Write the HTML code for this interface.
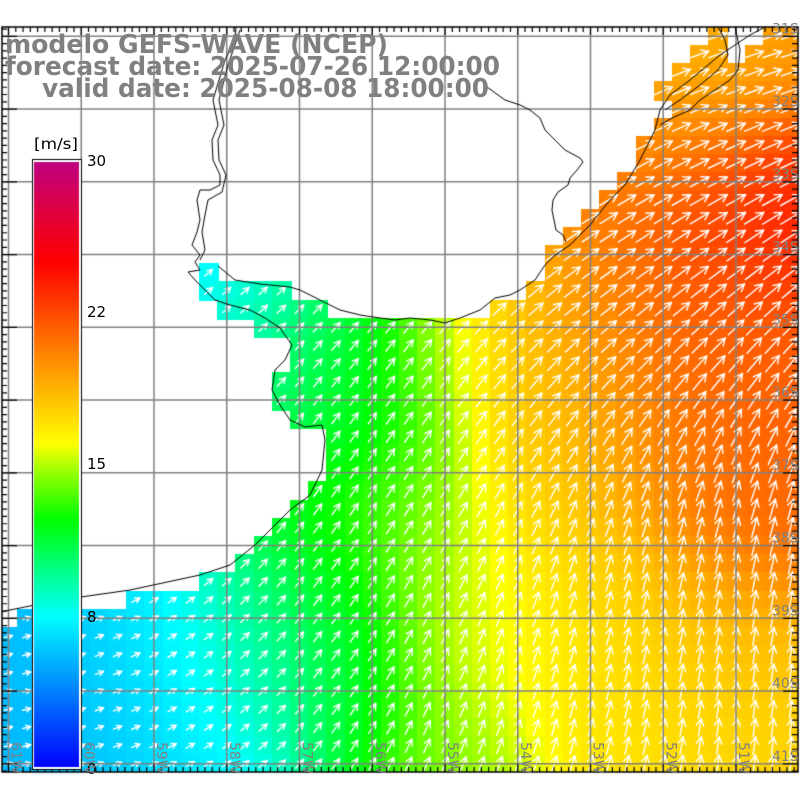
<!DOCTYPE html>
<html><head><meta charset="utf-8"><style>
html,body{margin:0;padding:0;background:#fff;width:800px;height:800px;overflow:hidden}
#c{position:absolute;left:0;top:0}
svg{position:absolute;left:0;top:0}
</style></head><body>
<canvas id="c" width="800" height="800"></canvas>
<svg width="800" height="800" xmlns="http://www.w3.org/2000/svg">
<g font-family="DejaVu Sans, Liberation Sans, sans-serif" font-weight="bold" font-size="26" fill="#808080">
<text x="5" y="53" textLength="383" lengthAdjust="spacingAndGlyphs">modelo GEFS-WAVE (NCEP)</text>
<text x="5" y="75" textLength="495" lengthAdjust="spacingAndGlyphs">forecast date: 2025-07-26 12:00:00</text>
<text x="42" y="97" textLength="447" lengthAdjust="spacingAndGlyphs">valid date: 2025-08-08 18:00:00</text>
</g>
<g font-family="DejaVu Sans, Liberation Sans, sans-serif" font-size="15" fill="#000">
<text x="34" y="149" textLength="44" lengthAdjust="spacingAndGlyphs">[m/s]</text>
<text x="87" y="166">30</text>
<text x="87" y="317">22</text>
<text x="87" y="469">15</text>
<text x="87" y="622">8</text>
<text x="87" y="774">0</text>
</g>
<g id="lab" font-family="DejaVu Sans, Liberation Sans, sans-serif" font-size="14" fill="#808080"></g>
</svg>
<script>
const cv=document.getElementById('c');const ctx=cv.getContext('2d');
const T=27,B=772,L=2,R=798;
const X0=8.5,Y0=36.3,D=72.75,C=18.19;
const rowsDef={0:[[709,727],[764,800]],1:[[691,727],[745,800]],2:[[673,800]],3:[[655,800]],4:[[673,800]],5:[[655,800]],6:[[636,800]],7:[[636,800]],8:[[618,800]],9:[[600,800]],10:[[582,800]],11:[[563,800]],12:[[545,800]],13:[[200,218],[545,800]],14:[[200,290],[527,800]],15:[[218,327],[492,800]],16:[[255,800]],17:[[292,800]],18:[[292,800]],19:[[273,800]],20:[[273,800]],21:[[292,800]],22:[[327,800]],23:[[327,800]],24:[[327,800]],25:[[310,800]],26:[[292,800]],27:[[273,800]],28:[[255,800]],29:[[237,800]],30:[[200,800]],31:[[127,800]],32:[[18,800]]};
for(let j=33;j<=40;j++)rowsDef[j]=[[-20,800]];
const SP=[[20,660,5.8],[20,760,5.8],[100,700,6.3],[150,640,7.2],[200,760,6.8],[230,630,8.5],[300,620,11.5],[250,700,9],[350,700,12],[330,560,12.5],[370,450,12.5],[340,380,12.5],[290,400,10],[230,290,7.3],[280,330,9.5],[350,330,11.5],[420,520,15],[430,350,14.5],[470,620,15],[450,740,14.5],[520,650,16.5],[560,500,17.5],[500,330,18],[600,320,20],[620,700,16.8],[720,640,18.5],[750,500,21],[780,400,21.5],[700,330,21.5],[780,200,24],[700,200,22],[650,150,19.5],[700,80,18],[780,40,19.5],[720,420,21],[780,760,17.5],[550,400,18],[690,720,17],[650,450,19.5],[600,600,17.5]];
const AP=[[50,700,8],[150,680,25],[250,650,45],[350,600,55],[400,400,55],[250,290,40],[550,700,75],[750,700,84],[750,500,78],[750,350,50],[720,250,35],[700,150,22],[780,80,15],[600,250,30],[550,350,45],[500,500,62],[650,600,78],[450,700,65]];
function gk(P,x,y,sg){let s=0,w=0;for(const p of P){const d=(p[0]-x)**2+(p[1]-y)**2;const k=Math.exp(-d/(2*sg*sg))+1e-12;s+=k*p[2];w+=k;}return s/w;}
const stops=[[0,[0,0,255]],[0.25,[0,255,255]],[0.33,[0,255,128]],[0.41,[0,255,0]],[0.5,[176,255,0]],[0.535,[255,255,0]],[0.687,[255,128,0]],[0.836,[255,0,0]],[1,[192,0,128]]];
function cmap(t){t=Math.max(0,Math.min(1,t));for(let i=1;i<stops.length;i++){if(t<=stops[i][0]){const a=stops[i-1],b=stops[i];const f=(t-a[0])/(b[0]-a[0]);return 'rgb('+a[1].map((v,k)=>Math.round(v+(b[1][k]-v)*f)).join(',')+')';}}return 'rgb(192,0,128)';}
function s2t(s){if(s<=8)return s/8*0.25;if(s<=15)return .25+(s-8)/7*.25;if(s<=22)return .5+(s-15)/7*.25;return .75+(s-22)/8*.25;}
ctx.fillStyle='#fff';ctx.fillRect(0,0,800,800);
ctx.save();ctx.beginPath();ctx.rect(L,T,R-L,B-T);ctx.clip();
const cells=[];
for(let j=0;j<=40;j++){const yc=Y0+C*j;const segs=rowsDef[j];if(!segs)continue;
 for(let i=-1;i<=44;i++){const xc=X0+C*i;const xl=xc-C/2;
  let ok=false;for(const s of segs){if(xl>=s[0]-3&&xl+C<=s[1]+12)ok=true;}
  if(!ok)continue;const s=gk(SP,xc,yc,60);
  ctx.fillStyle=cmap(s2t(s));ctx.fillRect(Math.floor(xl),Math.floor(yc-C/2),Math.ceil(C)+1,Math.ceil(C)+1);
  cells.push([xc,yc,s]);}}
ctx.strokeStyle='#fff';ctx.lineWidth=1.4;ctx.lineCap='square';
for(const [xc,yc,s] of cells){const a=gk(AP,xc,yc,90)*Math.PI/180;const Ln=3+s*0.85;
 const dx=Math.cos(a),dy=-Math.sin(a);const x1=xc-dx*Ln/2,y1=yc-dy*Ln/2,x2=xc+dx*Ln/2,y2=yc+dy*Ln/2;
 ctx.beginPath();ctx.moveTo(x1,y1);ctx.lineTo(x2,y2);
 const h=Math.min(8,2.5+Ln*0.3);
 for(const sg of [1,-1]){const b=a+Math.PI+sg*0.5;ctx.moveTo(x2,y2);ctx.lineTo(x2+Math.cos(b)*h,y2-Math.sin(b)*h);}
 ctx.stroke();}
ctx.strokeStyle='#808080';ctx.lineWidth=1.5;ctx.lineCap='butt';
for(let k=0;k<11;k++){const x=X0+D*k;ctx.beginPath();ctx.moveTo(x,T);ctx.lineTo(x,B);ctx.stroke();}
for(let k=0;k<11;k++){const y=Y0+D*k;ctx.beginPath();ctx.moveTo(L,y);ctx.lineTo(R,y);ctx.stroke();}
function poly(p){ctx.beginPath();ctx.moveTo(p[0][0],p[0][1]);for(const q of p)ctx.lineTo(q[0],q[1]);ctx.stroke();}
ctx.strokeStyle='#000';ctx.lineWidth=1;
poly([[0,612],[60,600],[130,590],[200,575],[230,565],[255,545],[270,530],[290,510],[310,495],[322,470],[325,440],[322,425],[305,427],[290,420],[280,405],[272,390],[275,370],[285,360],[292,345],[280,328],[265,318],[250,310],[230,305],[215,300],[205,290],[195,280],[188,272],[200,270],[195,262],[200,255],[192,245],[197,232],[200,220],[197,200],[200,190],[210,190],[220,185],[220,175],[213,160],[212,140],[218,125],[213,100],[225,60],[235,40],[236,27]]);
poly([[200,260],[205,250],[202,232],[205,215],[208,200],[222,192],[226,175],[219,160],[218,140],[224,125],[219,100],[228,65],[240,30]]);
poly([[218,266],[235,280],[260,284],[290,287],[300,290],[320,300],[340,310],[360,315],[380,318],[395,320],[410,318],[430,320],[445,323],[460,318],[480,310],[495,298],[510,295],[520,290],[535,280],[545,265],[555,255],[570,245],[590,225],[610,200],[625,185],[640,160],[655,130],[660,110],[670,95],[690,80],[720,55],[750,35],[765,27]]);
poly([[487,87],[505,100],[520,105],[530,110],[540,118],[545,130],[555,140],[565,150],[580,158],[583,162],[577,170],[570,178],[568,185],[558,192],[553,200],[552,210],[556,230],[563,235],[566,242]]);
poly([[665,110],[680,100],[700,85],[718,70],[728,55],[725,40],[718,27]]);
poly([[735,27],[740,50],[738,70],[730,80],[715,90],[700,100],[690,110],[672,118],[660,125]]);
ctx.restore();
ctx.strokeStyle='#000';ctx.lineWidth=1.5;ctx.strokeRect(L,T,R-L,B-T);
ctx.lineWidth=1.2;
for(let k=-1;k<=110;k++){const x=X0+D*0.1*k;if(x<L||x>R)continue;const maj=k%10==0;
 ctx.beginPath();ctx.moveTo(x,T);ctx.lineTo(x,T+(maj?8:5));ctx.moveTo(x,B);ctx.lineTo(x,B-(maj?8:5));ctx.stroke();}
for(let k=-1;k<=105;k++){const y=Y0+D*0.1*k;if(y<T||y>B)continue;const maj=k%10==0;
 ctx.beginPath();ctx.moveTo(L,y);ctx.lineTo(L+(maj?15:5),y);ctx.moveTo(R,y);ctx.lineTo(R-(maj?15:6),y);ctx.stroke();}
ctx.fillStyle='#000';ctx.fillRect(32,159,50,611);
ctx.fillStyle='#fff';ctx.fillRect(33,160,48,609);
const g=ctx.createLinearGradient(0,768,0,162);
for(const s of stops)g.addColorStop(s[0],cmap(s[0]));
ctx.fillStyle=g;ctx.fillRect(34,162,45,605);
const lab=document.getElementById('lab');let h='';
const lons=['61W','60W','59W','58W','57W','56W','55W','54W','53W','52W','51W'];
lons.forEach((t,k)=>{const x=X0+D*k+3;h+=`<text transform="translate(${x},742) rotate(90)">${t}</text>`;});
for(let k=0;k<11;k++){const y=Y0+D*k-3;h+=`<text x="772" y="${y}">${31+k}S</text>`;}
lab.innerHTML=h;
</script>
</body></html>
